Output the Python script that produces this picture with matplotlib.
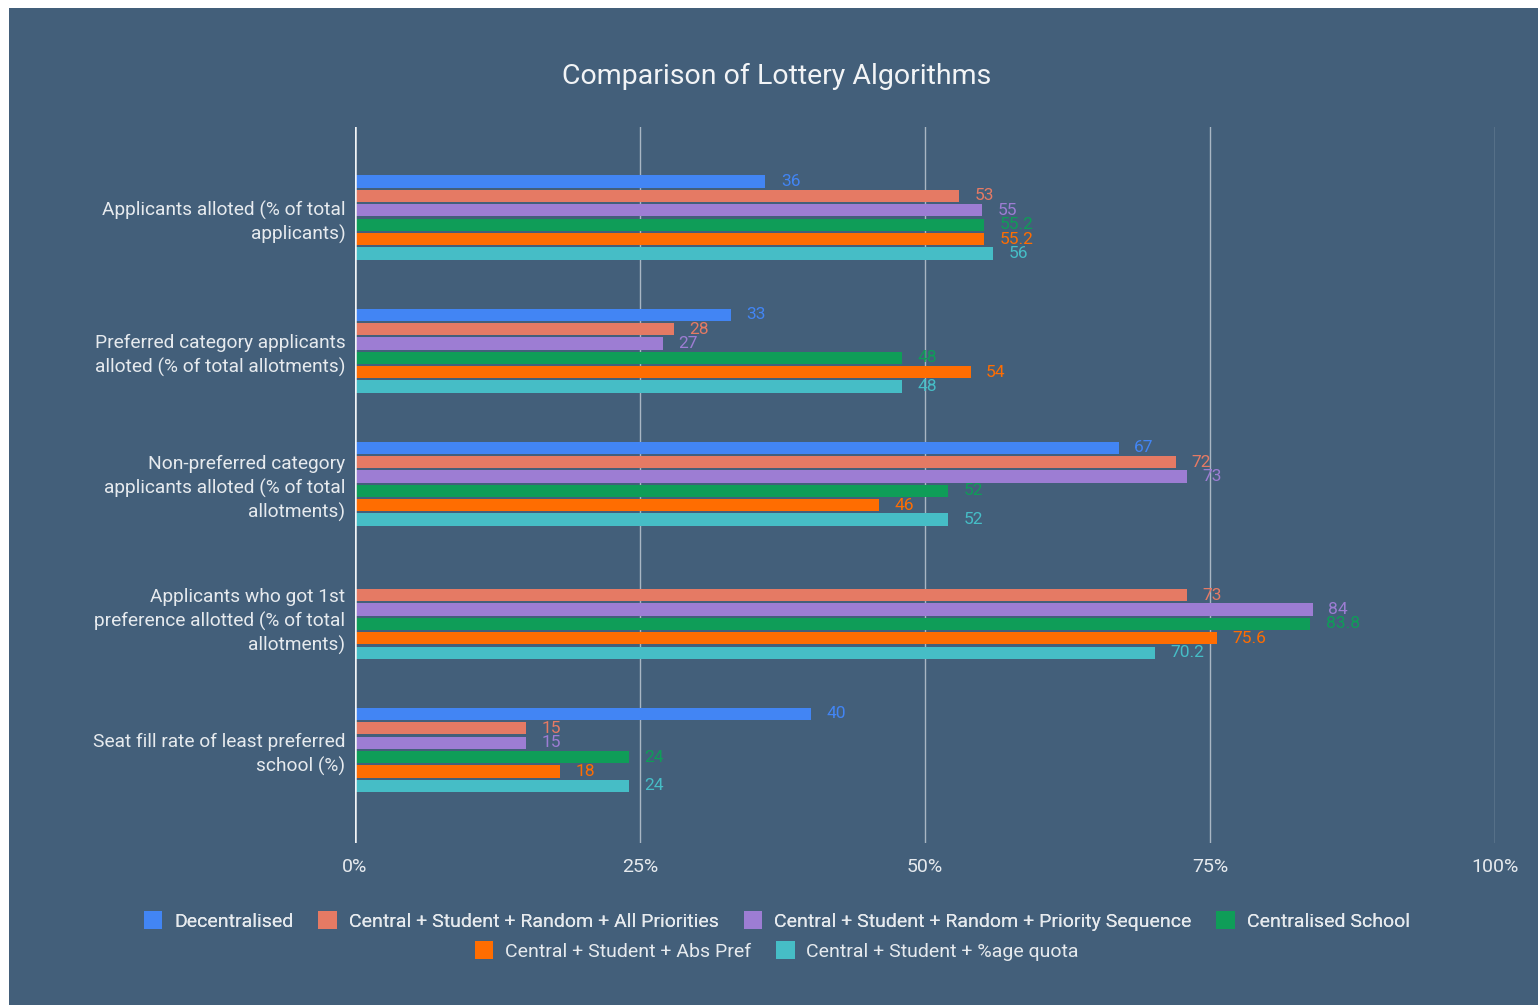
import numpy as np
import matplotlib
matplotlib.use("Agg")
import matplotlib.pyplot as plt
from matplotlib.patches import Rectangle, Patch

plt.rcParams['font.family'] = ['Roboto', 'DejaVu Sans']

# data
categories = [
    "Applicants alloted (% of total\napplicants)",
    "Preferred category applicants\nalloted (% of total allotments)",
    "Non-preferred category\napplicants alloted (% of total\nallotments)",
    "Applicants who got 1st\npreference allotted (% of total\nallotments)",
    "Seat fill rate of least preferred\nschool (%)",
]
series_names = [
    "Decentralised",
    "Central + Student + Random + All Priorities",
    "Central + Student + Random + Priority Sequence",
    "Centralised School",
    "Central + Student + Abs Pref",
    "Central + Student + %age quota",
]
decentralised = [36, 33, 67, None, 40]
random_all = [53, 28, 72, 73, 15]
random_seq = [55, 27, 73, 84, 15]
centralised_school = [55.2, 48, 52, 83.8, 24]
abs_pref = [55.2, 54, 46, 75.6, 18]
pct_quota = [56, 48, 52, 70.2, 24]
all_series = [decentralised, random_all, random_seq, centralised_school, abs_pref, pct_quota]
colors = ["#4285F4", "#E57A64", "#9D7DD3", "#0F9D58", "#FF6D01", "#46BDC6"]

bg = "#435F7A"
txt = "#E6EAEE"

fig = plt.figure(figsize=(15.38, 10.05), dpi=100)
fig.patch.set_facecolor("white")
fig.add_artist(Rectangle((9 / 1538, 0), 1, 1 - 8 / 1005, transform=fig.transFigure,
                         facecolor=bg, edgecolor="none", zorder=-10))

ax = fig.add_axes([355 / 1538, 1 - 843 / 1005, (1495 - 355) / 1538, (843 - 127) / 1005])
ax.set_facecolor(bg)

pitch = 0.108
bar_h = 0.092
y = np.arange(len(categories))
for i, (vals, c) in enumerate(zip(all_series, colors)):
    off = (i - 2.5) * pitch
    for j, v in enumerate(vals):
        if v is None:
            continue
        ax.barh(y[j] + off, v, height=bar_h, color=c, zorder=3)
        ax.text(v + 1.35, y[j] + off, f"{v:g}", color=c, fontsize=12.5,
                va="center", ha="left", zorder=4)

ax.set_xlim(0, 100)
ax.set_ylim(4.7, -0.68)
ax.set_xticks([0, 25, 50, 75, 100])
ax.set_xticklabels(["0%", "25%", "50%", "75%", "100%"], color=txt, fontsize=14)
ax.set_yticks(y)
ax.set_yticklabels(categories, color=txt, fontsize=13.8, linespacing=1.36)
ax.tick_params(axis="y", length=0, pad=7)
ax.tick_params(axis="x", length=0, pad=11)
for s in ax.spines.values():
    s.set_visible(False)
for xv in [25, 50, 75, 100]:
    ax.axvline(xv, color="#A9B6C3", lw=1, zorder=1)
ax.axvline(0, color="#F2F4F6", lw=1.8, zorder=5)

fig.text(0.505, 1 - 76 / 1005, "Comparison of Lottery Algorithms", color="#F2F4F6",
         fontsize=20.5, ha="center", va="center")

handles = [Patch(facecolor=c, edgecolor="none") for c in colors]
leg_kw = dict(loc="center", frameon=False, fontsize=14, labelcolor=txt,
              handlelength=0.95, handleheight=1.0, handletextpad=0.6,
              columnspacing=1.3)
leg1 = fig.legend(handles[:4], series_names[:4], ncol=4,
                  bbox_to_anchor=(0.505, 1 - 921 / 1005), **leg_kw)
leg2 = fig.legend(handles[4:], series_names[4:], ncol=2,
                  bbox_to_anchor=(0.505, 1 - 951 / 1005), **leg_kw)
fig.add_artist(leg1)

fig.savefig("out.png", dpi=100, facecolor=fig.get_facecolor())
